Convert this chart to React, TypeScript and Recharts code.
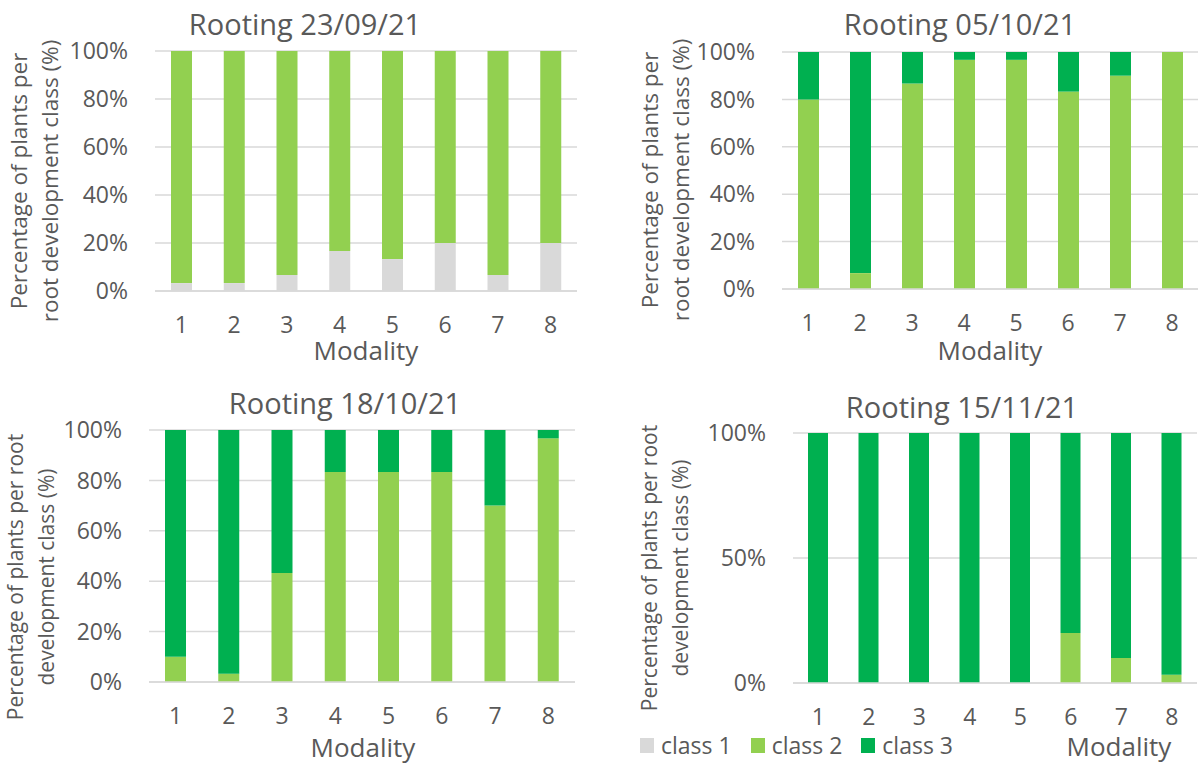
import React from "react";
import { BarChart, Bar, XAxis, YAxis, CartesianGrid } from "recharts";

const modalities = ["1", "2", "3", "4", "5", "6", "7", "8"];
const classLabels = ["class 1", "class 2", "class 3"];
const classColors = ["#D9D9D9", "#92D050", "#00B050"];

// Rooting 23/09/21
const sep23Class1 = [3.3, 3.3, 6.7, 16.7, 13.3, 20, 6.7, 20];
const sep23Class2 = [96.7, 96.7, 93.3, 83.3, 86.7, 80, 93.3, 80];
const sep23Class3 = [0, 0, 0, 0, 0, 0, 0, 0];

// Rooting 05/10/21
const oct05Class1 = [0, 0, 0, 0, 0, 0, 0, 0];
const oct05Class2 = [80, 6.7, 86.7, 96.7, 96.7, 83.3, 90, 100];
const oct05Class3 = [20, 93.3, 13.3, 3.3, 3.3, 16.7, 10, 0];

// Rooting 18/10/21
const oct18Class1 = [0, 0, 0, 0, 0, 0, 0, 0];
const oct18Class2 = [10, 3.3, 43.3, 83.3, 83.3, 83.3, 70, 96.7];
const oct18Class3 = [90, 96.7, 56.7, 16.7, 16.7, 16.7, 30, 3.3];

// Rooting 15/11/21
const nov15Class1 = [0, 0, 0, 0, 0, 0, 0, 0];
const nov15Class2 = [0, 0, 0, 0, 0, 20, 10, 3.3];
const nov15Class3 = [100, 100, 100, 100, 100, 80, 90, 96.7];

const ticksFine = [0, 20, 40, 60, 80, 100];
const ticksCoarse = [0, 50, 100];

const TEXT = "#595959";
const GRID = "#D9D9D9";
const FONT = "'Open Sans', 'Noto Sans', sans-serif";

const buildRows = (c1: number[], c2: number[], c3: number[]) =>
    modalities.map((m, i) => ({ modality: m, c1: c1[i], c2: c2[i], c3: c3[i] }));

interface PanelProps {
    data: { modality: string; c1: number; c2: number; c3: number }[];
    ticks: number[];
    x: number;
    y: number;
    w: number;
    h: number;
    plot: { left: number; right: number; top: number; bottom: number };
    barSize: number;
}

function Panel({ data, ticks, x, y, w, h, plot, barSize }: PanelProps) {
    return (
        <div style={{ position: "absolute", left: x, top: y }}>
            <BarChart
                width={w}
                height={h}
                data={data}
                margin={{ top: plot.top - y, right: x + w - plot.right, left: 0, bottom: 0 }}
            >
                <CartesianGrid vertical={false} stroke={GRID} strokeWidth={1.5} />
                <XAxis
                    dataKey="modality"
                    height={y + h - plot.bottom}
                    axisLine={{ stroke: GRID, strokeWidth: 1.5 }}
                    tickLine={false}
                    tickSize={0}
                    tickMargin={26}
                    tick={{ fill: TEXT, fontSize: 23 }}
                    interval={0}
                />
                <YAxis
                    width={plot.left - x}
                    domain={[0, 100]}
                    ticks={ticks}
                    axisLine={false}
                    tickLine={false}
                    tickSize={0}
                    tickMargin={27}
                    tick={{ fill: TEXT, fontSize: 23 }}
                    tickFormatter={(v) => `${v}%`}
                />
                <Bar dataKey="c1" stackId="a" fill={classColors[0]} barSize={barSize} isAnimationActive={false} />
                <Bar dataKey="c2" stackId="a" fill={classColors[1]} barSize={barSize} isAnimationActive={false} />
                <Bar dataKey="c3" stackId="a" fill={classColors[2]} barSize={barSize} isAnimationActive={false} />
            </BarChart>
        </div>
    );
}

const centered = (x: number, y: number, size: number, extra: React.CSSProperties = {}): React.CSSProperties => ({
    position: "absolute",
    left: x,
    top: y,
    transform: "translate(-50%, -50%)",
    fontSize: size,
    color: TEXT,
    whiteSpace: "nowrap",
    ...extra,
});

function YTitle({ x, y, size, lines }: { x: number; y: number; size: number; lines: string[] }) {
    return (
        <div
            style={centered(x, y, size, {
                transform: "translate(-50%, -50%) rotate(-90deg)",
                textAlign: "center",
                lineHeight: "31px",
            })}
        >
            {lines.map((l) => (
                <div key={l}>{l}</div>
            ))}
        </div>
    );
}

const modalityStyle = (x: number, y: number) => centered(x, y, 26, { lineHeight: "20px" });

export default function App() {
    return (
        <div
            style={{
                position: "absolute",
                left: 0,
                top: 0,
                width: 1198,
                height: 765,
                background: "#fff",
                fontFamily: FONT,
                overflow: "hidden",
            }}
        >
            <Panel
                data={buildRows(sep23Class1, sep23Class2, sep23Class3)}
                ticks={ticksFine}
                x={0}
                y={0}
                w={599}
                h={380}
                plot={{ left: 155, right: 577, top: 51, bottom: 291 }}
                barSize={21}
            />
            <Panel
                data={buildRows(oct05Class1, oct05Class2, oct05Class3)}
                ticks={ticksFine}
                x={600}
                y={0}
                w={598}
                h={380}
                plot={{ left: 782, right: 1198, top: 52, bottom: 289 }}
                barSize={21}
            />
            <Panel
                data={buildRows(oct18Class1, oct18Class2, oct18Class3)}
                ticks={ticksFine}
                x={0}
                y={380}
                w={599}
                h={385}
                plot={{ left: 149, right: 575, top: 430, bottom: 682 }}
                barSize={21}
            />
            <Panel
                data={buildRows(nov15Class1, nov15Class2, nov15Class3)}
                ticks={ticksCoarse}
                x={600}
                y={380}
                w={598}
                h={385}
                plot={{ left: 793, right: 1197, top: 433, bottom: 683 }}
                barSize={20}
            />

            <div style={centered(305, 23, 29)}>Rooting 23/09/21</div>
            <div style={centered(960, 23, 29)}>Rooting 05/10/21</div>
            <div style={centered(345, 402, 29)}>Rooting 18/10/21</div>
            <div style={centered(962, 406, 29)}>Rooting 15/11/21</div>

            <div style={modalityStyle(366, 350)}>Modality</div>
            <div style={modalityStyle(990, 350)}>Modality</div>
            <div style={modalityStyle(363, 747)}>Modality</div>
            <div style={modalityStyle(1119, 746)}>Modality</div>

            <YTitle x={34} y={181} size={22.5} lines={["Percentage of plants per", "root development class (%)"]} />
            <YTitle x={665} y={180} size={22.5} lines={["Percentage of plants per", "root development class (%)"]} />
            <YTitle x={31} y={577} size={21} lines={["Percentage of plants per root", "development class (%)"]} />
            <YTitle x={665} y={568} size={21} lines={["Percentage of plants per root", "development class (%)"]} />

            <div
                style={{
                    position: "absolute",
                    left: 640,
                    top: 745,
                    transform: "translateY(-50%)",
                    display: "flex",
                    alignItems: "center",
                    fontSize: 23,
                    lineHeight: "24px",
                    color: TEXT,
                    whiteSpace: "nowrap",
                }}
            >
                {classLabels.map((label, i) => (
                    <div key={label} style={{ display: "flex", alignItems: "center", marginRight: 19 }}>
                        <span
                            style={{
                                display: "inline-block",
                                width: 14,
                                height: 15,
                                background: classColors[i],
                                marginRight: 7,
                            }}
                        />
                        {label}
                    </div>
                ))}
            </div>
        </div>
    );
}
